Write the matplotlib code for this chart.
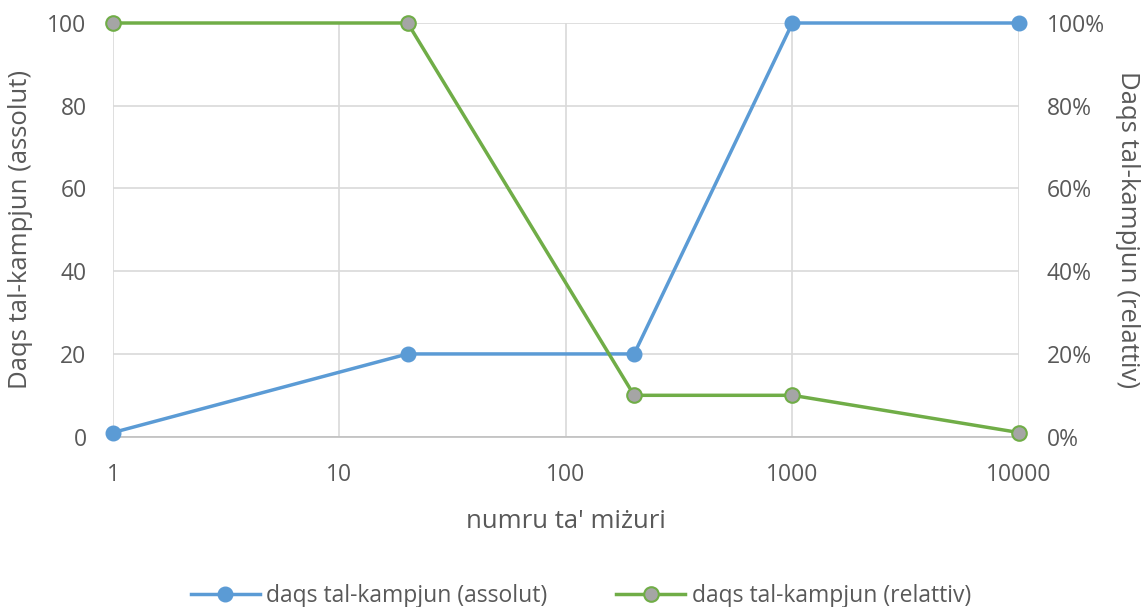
# coding: utf-8
import matplotlib
matplotlib.use("Agg")
import matplotlib.pyplot as plt
from matplotlib.ticker import FixedLocator, FuncFormatter, NullLocator

plt.rcParams['font.family'] = ['Open Sans', 'DejaVu Sans']

# data
x_values = [1, 20, 200, 1000, 10000]
absolute = [1, 20, 20, 100, 100]
relative = [1.0, 1.0, 0.10, 0.10, 0.01]
x_ticks = [1, 10, 100, 1000, 10000]
x_tick_labels = ["1", "10", "100", "1000", "10000"]
y_ticks = [0, 20, 40, 60, 80, 100]
y2_ticks = [0, 0.2, 0.4, 0.6, 0.8, 1.0]

label_abs = "daqs tal-kampjun (assolut)"
label_rel = "daqs tal-kampjun (relattiv)"

blue = "#5B9BD5"
green = "#70AD47"
marker_gray = "#A5A5A5"
text_col = "#595959"
grid_col = "#D9D9D9"

fig = plt.figure(figsize=(11.46, 6.07), dpi=100)
ax = fig.add_axes([0.0986, 0.2806, 0.7905, 0.6815])
ax2 = ax.twinx()

l1, = ax.plot(x_values, absolute, color=blue, lw=2.5, marker='o', ms=10.5,
              markerfacecolor=blue, markeredgecolor=blue, clip_on=False,
              label=label_abs, zorder=3)
l2, = ax2.plot(x_values, relative, color=green, lw=2.5, marker='o', ms=10.5,
               markerfacecolor=marker_gray, markeredgecolor=green, mew=1.5,
               clip_on=False, label=label_rel, zorder=3)

ax.set_xscale('log')
ax.set_xlim(1, 10000)
ax.set_ylim(0, 100)
ax2.set_ylim(0, 1)
ax.xaxis.set_major_locator(FixedLocator(x_ticks))
ax.xaxis.set_minor_locator(NullLocator())
ax.set_xticklabels(x_tick_labels)
ax.set_yticks(y_ticks)
ax2.set_yticks(y2_ticks)
ax2.yaxis.set_major_formatter(FuncFormatter(lambda v, p: "%d%%" % round(v * 100)))

ax.grid(True, color=grid_col, lw=1.2)
ax.set_axisbelow(True)
for a in (ax, ax2):
    for s in a.spines.values():
        s.set_visible(False)
    a.tick_params(length=0, labelsize=16.5, colors=text_col)
ax.spines['bottom'].set_visible(True)
ax.spines['bottom'].set_color("#BFBFBF")
ax.spines['bottom'].set_linewidth(1.2)
ax.tick_params(axis='x', pad=19)
ax.tick_params(axis='y', pad=19)
ax2.tick_params(axis='y', pad=20)

ax.set_xlabel("numru ta' miżuri", fontsize=18.5, color=text_col, labelpad=16)
ax.set_ylabel("Daqs tal-kampjun (assolut)", fontsize=18.5, color=text_col, labelpad=10)
ax2.set_ylabel("Daqs tal-kampjun (relattiv)", fontsize=18.5, color=text_col,
               rotation=270, labelpad=25)

fig.legend([l1, l2], [label_abs, label_rel], loc='center', ncol=2,
           bbox_to_anchor=(0.507, 0.018), frameon=False, fontsize=16.5,
           labelcolor=text_col, handlelength=3, columnspacing=3,
           handletextpad=0.3)

plt.savefig("out.png", dpi=100)
